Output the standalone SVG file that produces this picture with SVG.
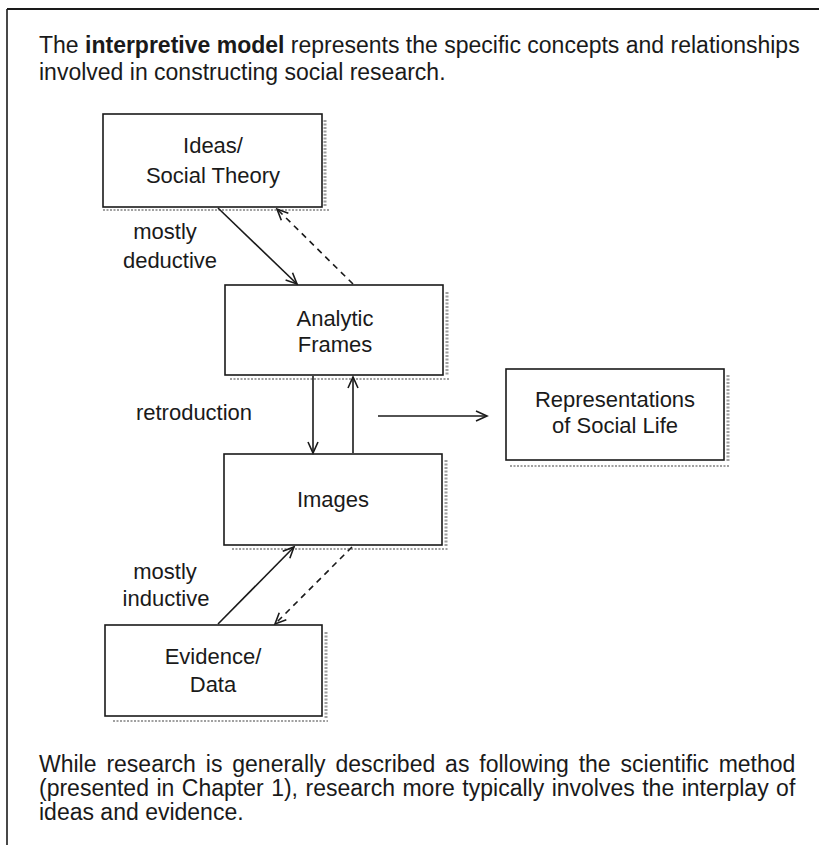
<svg xmlns="http://www.w3.org/2000/svg" width="819" height="845" viewBox="0 0 819 845">
<style>
.box{fill:#fff;stroke:#1a1a1a;stroke-width:1.6}
.sh{stroke:#a0a0a0;stroke-dasharray:2 1.5;fill:none}
.shv{stroke-width:3}
.shh{stroke-width:2}
.lbl{font-family:"Liberation Sans",Arial,sans-serif;font-size:22px;fill:#1a1a1a;text-anchor:middle}
.body{font-family:"Liberation Sans",Arial,sans-serif;font-size:23px;fill:#1a1a1a}
.c{stroke:#1a1a1a;stroke-width:1.6;fill:none}
.d{stroke-dasharray:6 5}
</style>
<defs>
<marker id="ah" markerWidth="14" markerHeight="14" refX="12" refY="7" orient="auto" markerUnits="userSpaceOnUse">
<path d="M1,2 L12,7 L1,12" fill="none" stroke="#1a1a1a" stroke-width="1.6"/>
</marker>
</defs>
<rect width="819" height="845" fill="#fff"/>
<g id="frame">
<line x1="7" y1="9" x2="819" y2="9" stroke="#1a1a1a" stroke-width="2"/>
<line x1="7" y1="9" x2="7" y2="845" stroke="#1a1a1a" stroke-width="1.6"/>
</g>
<g id="title">
<text class="body" x="39" y="53">The <tspan font-weight="bold">interpretive model</tspan> represents the specific concepts and relationships</text>
<text class="body" x="39" y="80">involved in constructing social research.</text>
</g>
<g id="node-ideas">
<line class="sh shv" x1="325" y1="120" x2="325" y2="206"/>
<line class="sh shh" x1="103" y1="210" x2="330" y2="210"/>
<rect class="box" x="103" y="114" width="219" height="93"/>
<text class="lbl" x="213" y="153">Ideas/</text>
<text class="lbl" x="213" y="183">Social Theory</text>
</g>
<g id="node-analytic">
<line class="sh shv" x1="447" y1="292" x2="447" y2="376"/>
<line class="sh shh" x1="230" y1="379" x2="449" y2="379"/>
<rect class="box" x="225" y="285" width="218" height="90"/>
<text class="lbl" x="335" y="326">Analytic</text>
<text class="lbl" x="335" y="352">Frames</text>
</g>
<g id="node-representations">
<line class="sh shv" x1="728" y1="375" x2="728" y2="462"/>
<line class="sh shh" x1="510" y1="466" x2="730" y2="466"/>
<rect class="box" x="506" y="369" width="218" height="91"/>
<text class="lbl" x="615" y="407">Representations</text>
<text class="lbl" x="615" y="433">of Social Life</text>
</g>
<g id="node-images">
<line class="sh shv" x1="446" y1="460" x2="446" y2="547"/>
<line class="sh shh" x1="232" y1="549" x2="448" y2="549"/>
<rect class="box" x="224" y="454" width="218" height="91"/>
<text class="lbl" x="333" y="507">Images</text>
</g>
<g id="node-evidence">
<line class="sh shv" x1="326" y1="632" x2="326" y2="718"/>
<line class="sh shh" x1="113" y1="721" x2="328" y2="721"/>
<rect class="box" x="105" y="625" width="217" height="91"/>
<text class="lbl" x="213" y="664">Evidence/</text>
<text class="lbl" x="213" y="692">Data</text>
</g>
<g id="connectors">
<line class="c" x1="218" y1="208" x2="297" y2="284" marker-end="url(#ah)"/>
<line class="c d" x1="353" y1="284" x2="277" y2="209" marker-end="url(#ah)"/>
<line class="c" x1="313" y1="376" x2="313" y2="453" marker-end="url(#ah)"/>
<line class="c" x1="353" y1="453" x2="353" y2="377" marker-end="url(#ah)"/>
<line class="c" x1="378" y1="416" x2="487" y2="416" marker-end="url(#ah)"/>
<line class="c" x1="218" y1="624" x2="294" y2="547" marker-end="url(#ah)"/>
<line class="c d" x1="352" y1="547" x2="275" y2="624" marker-end="url(#ah)"/>
</g>
<g id="edge-labels">
<text class="lbl" x="165" y="239">mostly</text>
<text class="lbl" x="170" y="268">deductive</text>
<text class="lbl" x="194" y="420">retroduction</text>
<text class="lbl" x="165" y="579">mostly</text>
<text class="lbl" x="166" y="606">inductive</text>
</g>
<g id="caption">
<text class="body" x="39" y="772" word-spacing="3.5">While research is generally described as following the scientific method</text>
<text class="body" x="39" y="796" word-spacing="1.1">(presented in Chapter 1), research more typically involves the interplay of</text>
<text class="body" x="39" y="820">ideas and evidence.</text>
</g>
</svg>
